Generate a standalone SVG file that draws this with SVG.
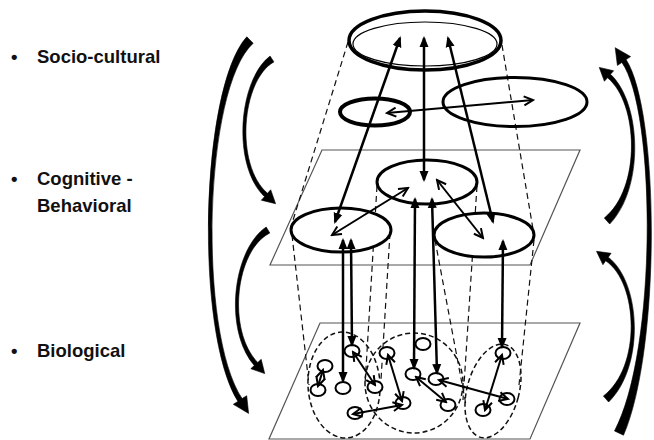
<svg xmlns="http://www.w3.org/2000/svg" width="654" height="440" viewBox="0 0 654 440">
<defs>
<style>
.lbl{font-family:"Liberation Sans",Arial,sans-serif;font-weight:bold;font-size:18.5px;fill:#111}
.plane{fill:none;stroke:#555;stroke-width:1.2}
.proj{fill:none;stroke:#111;stroke-width:1.2;stroke-dasharray:6 4}
.group{fill:none;stroke:#111;stroke-width:1.5;stroke-dasharray:5 3}
.mid{fill:#fff;stroke:#000;stroke-width:3}
.bub{fill:#fff;stroke:#000;stroke-width:2}
.arr{fill:none;stroke:#000;stroke-width:2.5;marker-start:url(#tri);marker-end:url(#tri)}
.dbl{fill:none;stroke:#000;stroke-width:2;marker-start:url(#chev);marker-end:url(#chev)}
.curve{fill:#000;stroke:#000;stroke-width:0.6;stroke-linejoin:round}
</style>
<marker id="tri" markerUnits="userSpaceOnUse" markerWidth="12" markerHeight="10" refX="9" refY="5" orient="auto-start-reverse" viewBox="0 0 12 10">
<path d="M0,0.5 L11,5 L0,9.5 z" fill="#000"/>
</marker>
<marker id="chev" markerUnits="userSpaceOnUse" markerWidth="12" markerHeight="12" refX="10" refY="5" orient="auto-start-reverse" viewBox="0 0 12 10">
<path d="M1,0.5 L10,5 L1,9.5" fill="none" stroke="#000" stroke-width="2"/>
</marker>
</defs>
<rect width="654" height="440" fill="#fff"/>

<g id="labels">
<text class="lbl" x="11" y="63">•</text>
<text class="lbl" x="37" y="63">Socio-cultural</text>
<text class="lbl" x="11" y="185">•</text>
<text class="lbl" x="37" y="185">Cognitive -</text>
<text class="lbl" x="37" y="212">Behavioral</text>
<text class="lbl" x="11" y="357">•</text>
<text class="lbl" x="37" y="357">Biological</text>
</g>

<g id="planes">
<polygon id="plane-cognitive" class="plane" points="322,150 580,150 530,265 270,265"/>
<polygon id="plane-biological" class="plane" points="320,323 580,323 530,439 269,439"/>
</g>

<g id="projections">
<line class="proj" x1="348" y1="42" x2="290" y2="230"/>
<line class="proj" x1="502" y1="45" x2="534" y2="235"/>
<line class="proj" x1="292" y1="235" x2="309" y2="385"/>
<line class="proj" x1="390" y1="233" x2="381" y2="380"/>
<line class="proj" x1="377" y1="186" x2="365" y2="385"/>
<line class="proj" x1="477" y1="186" x2="463" y2="400"/>
<line class="proj" x1="435" y1="240" x2="466" y2="405"/>
<line class="proj" x1="534" y1="240" x2="519" y2="385"/>
</g>

<g id="node-society">
<ellipse cx="425" cy="40.5" rx="76" ry="29.5" fill="none" stroke="#000" stroke-width="3.5"/>
<ellipse cx="425" cy="44" rx="72" ry="22" fill="none" stroke="#000" stroke-width="1.2"/>
</g>
<g id="node-social-small"><ellipse cx="375" cy="112" rx="35" ry="13.5" fill="none" stroke="#000" stroke-width="4"/></g>
<g id="node-social-large"><ellipse cx="515" cy="102" rx="72" ry="24.5" fill="none" stroke="#000" stroke-width="3"/></g>

<g id="node-cog-center"><ellipse class="mid" cx="427" cy="182" rx="50" ry="22"/></g>
<g id="node-cog-left"><ellipse class="mid" cx="341" cy="230" rx="50" ry="22"/></g>
<g id="node-cog-right"><ellipse class="mid" cx="484" cy="235" rx="50" ry="22"/></g>

<g id="node-bio-group-left"><ellipse class="group" cx="344" cy="385" rx="36" ry="53" transform="rotate(-3 344 385)"/></g>
<g id="node-bio-group-center"><ellipse class="group" cx="414" cy="383" rx="49" ry="50"/></g>
<g id="node-bio-group-right"><ellipse class="group" cx="493" cy="391" rx="26" ry="48" transform="rotate(15 493 391)"/></g>

<g id="node-bio-cells">
<ellipse class="bub" cx="325" cy="366" rx="7.5" ry="6"/>
<ellipse class="bub" cx="318" cy="390" rx="7.5" ry="6"/>
<ellipse class="bub" cx="343" cy="388" rx="7.5" ry="6"/>
<ellipse class="bub" cx="352" cy="351" rx="7.5" ry="6"/>
<ellipse class="bub" cx="375" cy="387" rx="7.5" ry="6"/>
<ellipse class="bub" cx="355" cy="413" rx="7.5" ry="6"/>
<ellipse class="bub" cx="387" cy="353" rx="7.5" ry="6"/>
<ellipse class="bub" cx="403" cy="403" rx="7.5" ry="6"/>
<ellipse class="bub" cx="423" cy="344" rx="7.5" ry="6"/>
<ellipse class="bub" cx="413" cy="374" rx="7.5" ry="6"/>
<ellipse class="bub" cx="436" cy="379" rx="7.5" ry="6"/>
<ellipse class="bub" cx="448" cy="405" rx="7.5" ry="6"/>
<ellipse class="bub" cx="503" cy="353" rx="7.5" ry="6"/>
<ellipse class="bub" cx="507" cy="399" rx="7.5" ry="6"/>
<ellipse class="bub" cx="483" cy="410" rx="7.5" ry="6"/>
</g>

<g id="connectors">
<line class="arr" x1="335" y1="222" x2="400" y2="38"/>
<line class="arr" x1="424" y1="180" x2="424" y2="38"/>
<line class="arr" x1="493" y1="222" x2="448" y2="38"/>
<line class="dbl" x1="387" y1="113" x2="533" y2="100"/>
<line class="dbl" x1="332" y1="235" x2="408" y2="188"/>
<line class="dbl" x1="437" y1="180" x2="483" y2="238"/>
<line class="arr" x1="343" y1="240" x2="343" y2="381"/>
<line class="arr" x1="351" y1="240" x2="352" y2="345"/>
<line class="arr" x1="415" y1="199" x2="414" y2="368"/>
<line class="arr" x1="432" y1="199" x2="437" y2="373"/>
<line class="arr" x1="503" y1="241" x2="502" y2="347"/>
<line class="dbl" x1="323" y1="370" x2="318" y2="386"/>
<line class="dbl" x1="353" y1="352" x2="375" y2="385"/>
<line class="dbl" x1="388" y1="355" x2="402" y2="401"/>
<line class="dbl" x1="402" y1="405" x2="353" y2="414"/>
<line class="dbl" x1="416" y1="377" x2="446" y2="402"/>
<line class="dbl" x1="439" y1="380" x2="508" y2="399"/>
<line class="dbl" x1="502" y1="355" x2="485" y2="410"/>

<path class="curve" d="M246.8,36.8 C200.4,88 194.4,332 237.9,401.4 L233.3,404.3 L248.6,413.4 L246.7,395.7 L242.1,398.6 C197.6,332 203.6,88 253.2,43.2 Z"/>
<path class="curve" d="M270.1,56.1 C238.5,80 231.5,165 264.5,196.7 L261.3,200.2 L275.6,203.7 L270.7,189.8 L267.5,193.3 C234.5,165 241.5,80 273.9,61.9 Z"/>
<path class="curve" d="M266.2,227 C232.5,250 223.5,330 254.3,365.5 L250.8,368.7 L264.7,373.6 L261.2,359.3 L257.7,362.5 C226.5,330 235.5,250 269.8,233 Z"/>
<path class="curve" d="M626.1,59.6 C659.7,112 660.7,350 623.5,435.2 L614.5,430.9 C657.3,350 656.3,112 621.9,62.4 L617.4,65.4 L615.2,47.7 L630.6,56.6 Z"/>
<path class="curve" d="M610.5,74.3 C641.5,103 644.5,188 609.7,224 L604.3,218 C641.5,188 638.5,103 607.5,77.7 L604.4,81.25 L599.25,67.4 L613.6,70.75 Z"/>
<path class="curve" d="M608.3,257.2 C641.5,283 644.5,367 608.6,402 L603.4,396 C641.5,367 638.5,283 605.7,260.8 L602.9,264.7 L596.5,251.3 L611.1,253.3 Z"/>
</g>
</svg>
